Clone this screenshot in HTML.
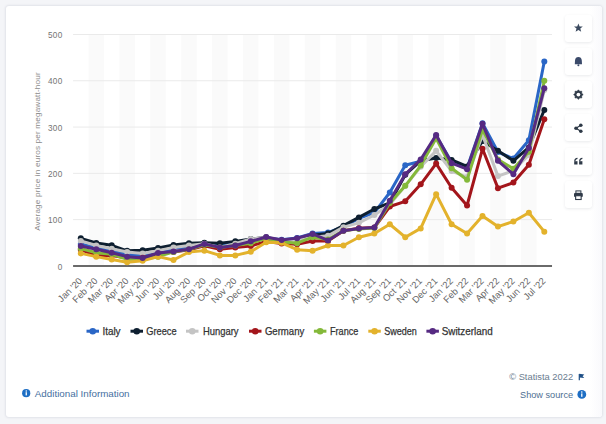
<!DOCTYPE html>
<html><head><meta charset="utf-8"><style>
html,body{margin:0;padding:0;}
body{width:606px;height:424px;background:#f4f5f8;position:relative;overflow:hidden;font-family:"Liberation Sans",sans-serif;}
.card{position:absolute;left:6px;top:6px;width:596px;height:411px;background:#fff;border-radius:3px;box-shadow:0 0 2px 1px rgba(40,50,90,0.09);}
.side{position:absolute;left:590px;top:6px;width:12px;height:411px;background:linear-gradient(to right,#fff,#f9f9fc);border-radius:0 3px 3px 0;}
.btn{position:absolute;left:565px;width:27px;height:27px;background:#fff;border-radius:3px;box-shadow:0 1px 3px rgba(40,50,70,0.10);}
svg{position:absolute;left:0;top:0;}
.yl{font-size:8.2px;fill:#737373;letter-spacing:0.3px;}
.yt{font-size:8.1px;fill:#8c8c8c;}
.xl{font-size:9.4px;fill:#666;}
.lg{font-size:10.6px;fill:#333;stroke:#333;stroke-width:0.25px;}
.t{position:absolute;white-space:nowrap;line-height:1;}
</style></head><body>
<div class="card"></div>
<div class="side"></div>
<div class="btn" style="top:15px"></div><div class="btn" style="top:48px"></div><div class="btn" style="top:81px"></div><div class="btn" style="top:114px"></div><div class="btn" style="top:147.5px"></div><div class="btn" style="top:181px"></div>
<svg width="606" height="424" viewBox="0 0 606 424">
<rect x="88.53" y="34.5" width="15.45" height="231.40" fill="#fafafa"/>
<rect x="119.42" y="34.5" width="15.45" height="231.40" fill="#fafafa"/>
<rect x="150.32" y="34.5" width="15.45" height="231.40" fill="#fafafa"/>
<rect x="181.22" y="34.5" width="15.45" height="231.40" fill="#fafafa"/>
<rect x="212.12" y="34.5" width="15.45" height="231.40" fill="#fafafa"/>
<rect x="243.02" y="34.5" width="15.45" height="231.40" fill="#fafafa"/>
<rect x="273.93" y="34.5" width="15.45" height="231.40" fill="#fafafa"/>
<rect x="304.82" y="34.5" width="15.45" height="231.40" fill="#fafafa"/>
<rect x="335.72" y="34.5" width="15.45" height="231.40" fill="#fafafa"/>
<rect x="366.62" y="34.5" width="15.45" height="231.40" fill="#fafafa"/>
<rect x="397.52" y="34.5" width="15.45" height="231.40" fill="#fafafa"/>
<rect x="428.42" y="34.5" width="15.45" height="231.40" fill="#fafafa"/>
<rect x="459.32" y="34.5" width="15.45" height="231.40" fill="#fafafa"/>
<rect x="490.22" y="34.5" width="15.45" height="231.40" fill="#fafafa"/>
<rect x="521.12" y="34.5" width="15.45" height="231.40" fill="#fafafa"/>
<line x1="73.075" x2="552.025" y1="219.62" y2="219.62" stroke="#eaeaea" stroke-width="1"/>
<line x1="73.075" x2="552.025" y1="173.34" y2="173.34" stroke="#eaeaea" stroke-width="1"/>
<line x1="73.075" x2="552.025" y1="127.06" y2="127.06" stroke="#eaeaea" stroke-width="1"/>
<line x1="73.075" x2="552.025" y1="80.78" y2="80.78" stroke="#eaeaea" stroke-width="1"/>
<line x1="73.075" x2="552.025" y1="34.50" y2="34.50" stroke="#eaeaea" stroke-width="1"/>
<line x1="73.075" x2="552.025" y1="265.90" y2="265.90" stroke="#6a6a6a" stroke-width="2"/>
<text x="62.5" y="269.50" text-anchor="end" class="yl">0</text>
<text x="62.5" y="223.22" text-anchor="end" class="yl">100</text>
<text x="62.5" y="176.94" text-anchor="end" class="yl">200</text>
<text x="62.5" y="130.66" text-anchor="end" class="yl">300</text>
<text x="62.5" y="84.38" text-anchor="end" class="yl">400</text>
<text x="62.5" y="38.10" text-anchor="end" class="yl">500</text>
<text transform="translate(39.6,151.6) rotate(-90)" text-anchor="middle" class="yt" textLength="158.5" lengthAdjust="spacing">Average price in euros per megawatt-hour</text>
<text transform="translate(82.80,281.5) rotate(-45)" text-anchor="end" class="xl">Jan '20</text>
<text transform="translate(98.25,281.5) rotate(-45)" text-anchor="end" class="xl">Feb '20</text>
<text transform="translate(113.70,281.5) rotate(-45)" text-anchor="end" class="xl">Mar '20</text>
<text transform="translate(129.15,281.5) rotate(-45)" text-anchor="end" class="xl">Apr '20</text>
<text transform="translate(144.60,281.5) rotate(-45)" text-anchor="end" class="xl">May '20</text>
<text transform="translate(160.05,281.5) rotate(-45)" text-anchor="end" class="xl">Jun '20</text>
<text transform="translate(175.50,281.5) rotate(-45)" text-anchor="end" class="xl">Jul '20</text>
<text transform="translate(190.95,281.5) rotate(-45)" text-anchor="end" class="xl">Aug '20</text>
<text transform="translate(206.40,281.5) rotate(-45)" text-anchor="end" class="xl">Sep '20</text>
<text transform="translate(221.85,281.5) rotate(-45)" text-anchor="end" class="xl">Oct '20</text>
<text transform="translate(237.30,281.5) rotate(-45)" text-anchor="end" class="xl">Nov '20</text>
<text transform="translate(252.75,281.5) rotate(-45)" text-anchor="end" class="xl">Dec '20</text>
<text transform="translate(268.20,281.5) rotate(-45)" text-anchor="end" class="xl">Jan '21</text>
<text transform="translate(283.65,281.5) rotate(-45)" text-anchor="end" class="xl">Feb '21</text>
<text transform="translate(299.10,281.5) rotate(-45)" text-anchor="end" class="xl">Mar '21</text>
<text transform="translate(314.55,281.5) rotate(-45)" text-anchor="end" class="xl">Apr '21</text>
<text transform="translate(330.00,281.5) rotate(-45)" text-anchor="end" class="xl">May '21</text>
<text transform="translate(345.45,281.5) rotate(-45)" text-anchor="end" class="xl">Jun '21</text>
<text transform="translate(360.90,281.5) rotate(-45)" text-anchor="end" class="xl">Jul '21</text>
<text transform="translate(376.35,281.5) rotate(-45)" text-anchor="end" class="xl">Aug '21</text>
<text transform="translate(391.80,281.5) rotate(-45)" text-anchor="end" class="xl">Sep '21</text>
<text transform="translate(407.25,281.5) rotate(-45)" text-anchor="end" class="xl">Oct '21</text>
<text transform="translate(422.70,281.5) rotate(-45)" text-anchor="end" class="xl">Nov '21</text>
<text transform="translate(438.15,281.5) rotate(-45)" text-anchor="end" class="xl">Dec '21</text>
<text transform="translate(453.60,281.5) rotate(-45)" text-anchor="end" class="xl">Jan '22</text>
<text transform="translate(469.05,281.5) rotate(-45)" text-anchor="end" class="xl">Feb '22</text>
<text transform="translate(484.50,281.5) rotate(-45)" text-anchor="end" class="xl">Mar '22</text>
<text transform="translate(499.95,281.5) rotate(-45)" text-anchor="end" class="xl">Apr '22</text>
<text transform="translate(515.40,281.5) rotate(-45)" text-anchor="end" class="xl">May '22</text>
<text transform="translate(530.85,281.5) rotate(-45)" text-anchor="end" class="xl">Jun '22</text>
<text transform="translate(546.30,281.5) rotate(-45)" text-anchor="end" class="xl">Jul '22</text>
<polyline points="80.80,243.93 96.25,247.71 111.70,251.08 127.15,254.42 142.60,255.82 158.05,252.95 173.50,248.31 188.95,247.25 204.40,243.32 219.85,245.73 235.30,243.35 250.75,240.91 266.20,237.80 281.65,239.72 297.10,237.94 312.55,233.50 328.00,232.58 343.45,226.65 358.90,218.38 374.35,212.68 389.80,192.50 405.25,165.18 420.70,161.33 436.15,135.74 451.60,162.00 467.05,167.93 482.50,123.33 497.95,152.07 513.40,158.53 528.85,140.34 544.30,61.50" fill="none" stroke="#2a66c6" stroke-width="3" stroke-linejoin="round" stroke-linecap="round"/>
<circle cx="80.80" cy="243.93" r="3" fill="#2a66c6"/>
<circle cx="96.25" cy="247.71" r="3" fill="#2a66c6"/>
<circle cx="111.70" cy="251.08" r="3" fill="#2a66c6"/>
<circle cx="127.15" cy="254.42" r="3" fill="#2a66c6"/>
<circle cx="142.60" cy="255.82" r="3" fill="#2a66c6"/>
<circle cx="158.05" cy="252.95" r="3" fill="#2a66c6"/>
<circle cx="173.50" cy="248.31" r="3" fill="#2a66c6"/>
<circle cx="188.95" cy="247.25" r="3" fill="#2a66c6"/>
<circle cx="204.40" cy="243.32" r="3" fill="#2a66c6"/>
<circle cx="219.85" cy="245.73" r="3" fill="#2a66c6"/>
<circle cx="235.30" cy="243.35" r="3" fill="#2a66c6"/>
<circle cx="250.75" cy="240.91" r="3" fill="#2a66c6"/>
<circle cx="266.20" cy="237.80" r="3" fill="#2a66c6"/>
<circle cx="281.65" cy="239.72" r="3" fill="#2a66c6"/>
<circle cx="297.10" cy="237.94" r="3" fill="#2a66c6"/>
<circle cx="312.55" cy="233.50" r="3" fill="#2a66c6"/>
<circle cx="328.00" cy="232.58" r="3" fill="#2a66c6"/>
<circle cx="343.45" cy="226.65" r="3" fill="#2a66c6"/>
<circle cx="358.90" cy="218.38" r="3" fill="#2a66c6"/>
<circle cx="374.35" cy="212.68" r="3" fill="#2a66c6"/>
<circle cx="389.80" cy="192.50" r="3" fill="#2a66c6"/>
<circle cx="405.25" cy="165.18" r="3" fill="#2a66c6"/>
<circle cx="420.70" cy="161.33" r="3" fill="#2a66c6"/>
<circle cx="436.15" cy="135.74" r="3" fill="#2a66c6"/>
<circle cx="451.60" cy="162.00" r="3" fill="#2a66c6"/>
<circle cx="467.05" cy="167.93" r="3" fill="#2a66c6"/>
<circle cx="482.50" cy="123.33" r="3" fill="#2a66c6"/>
<circle cx="497.95" cy="152.07" r="3" fill="#2a66c6"/>
<circle cx="513.40" cy="158.53" r="3" fill="#2a66c6"/>
<circle cx="528.85" cy="140.34" r="3" fill="#2a66c6"/>
<circle cx="544.30" cy="61.50" r="3" fill="#2a66c6"/>
<polyline points="80.80,238.36 96.25,242.99 111.70,245.31 127.15,250.86 142.60,250.16 158.05,248.04 173.50,245.07 188.95,243.22 204.40,242.76 219.85,243.22 235.30,241.37 250.75,239.06 266.20,237.21 281.65,241.79 297.10,239.06 312.55,235.36 328.00,233.50 343.45,225.64 358.90,217.40 374.35,208.98 389.80,202.96 405.25,174.73 420.70,160.84 436.15,158.07 451.60,159.92 467.05,166.40 482.50,140.94 497.95,150.66 513.40,160.84 528.85,147.47 544.30,109.94" fill="none" stroke="#0e1f30" stroke-width="3" stroke-linejoin="round" stroke-linecap="round"/>
<circle cx="80.80" cy="238.36" r="3" fill="#0e1f30"/>
<circle cx="96.25" cy="242.99" r="3" fill="#0e1f30"/>
<circle cx="111.70" cy="245.31" r="3" fill="#0e1f30"/>
<circle cx="127.15" cy="250.86" r="3" fill="#0e1f30"/>
<circle cx="142.60" cy="250.16" r="3" fill="#0e1f30"/>
<circle cx="158.05" cy="248.04" r="3" fill="#0e1f30"/>
<circle cx="173.50" cy="245.07" r="3" fill="#0e1f30"/>
<circle cx="188.95" cy="243.22" r="3" fill="#0e1f30"/>
<circle cx="204.40" cy="242.76" r="3" fill="#0e1f30"/>
<circle cx="219.85" cy="243.22" r="3" fill="#0e1f30"/>
<circle cx="235.30" cy="241.37" r="3" fill="#0e1f30"/>
<circle cx="250.75" cy="239.06" r="3" fill="#0e1f30"/>
<circle cx="266.20" cy="237.21" r="3" fill="#0e1f30"/>
<circle cx="281.65" cy="241.79" r="3" fill="#0e1f30"/>
<circle cx="297.10" cy="239.06" r="3" fill="#0e1f30"/>
<circle cx="312.55" cy="235.36" r="3" fill="#0e1f30"/>
<circle cx="328.00" cy="233.50" r="3" fill="#0e1f30"/>
<circle cx="343.45" cy="225.64" r="3" fill="#0e1f30"/>
<circle cx="358.90" cy="217.40" r="3" fill="#0e1f30"/>
<circle cx="374.35" cy="208.98" r="3" fill="#0e1f30"/>
<circle cx="389.80" cy="202.96" r="3" fill="#0e1f30"/>
<circle cx="405.25" cy="174.73" r="3" fill="#0e1f30"/>
<circle cx="420.70" cy="160.84" r="3" fill="#0e1f30"/>
<circle cx="436.15" cy="158.07" r="3" fill="#0e1f30"/>
<circle cx="451.60" cy="159.92" r="3" fill="#0e1f30"/>
<circle cx="467.05" cy="166.40" r="3" fill="#0e1f30"/>
<circle cx="482.50" cy="140.94" r="3" fill="#0e1f30"/>
<circle cx="497.95" cy="150.66" r="3" fill="#0e1f30"/>
<circle cx="513.40" cy="160.84" r="3" fill="#0e1f30"/>
<circle cx="528.85" cy="147.47" r="3" fill="#0e1f30"/>
<circle cx="544.30" cy="109.94" r="3" fill="#0e1f30"/>
<polyline points="80.80,240.91 96.25,245.54 111.70,248.78 127.15,252.02 142.60,253.40 158.05,250.63 173.50,247.39 188.95,245.54 204.40,243.69 219.85,247.39 235.30,243.69 250.75,239.06 266.20,237.21 281.65,241.14 297.10,240.45 312.55,237.21 328.00,235.82 343.45,227.16 358.90,222.86 374.35,214.99 389.80,204.53 405.25,185.88 420.70,166.81 436.15,150.85 451.60,171.03 467.05,177.04 482.50,134.93 497.95,176.12 513.40,170.56 528.85,154.83 544.30,90.04" fill="none" stroke="#c4c4c4" stroke-width="3" stroke-linejoin="round" stroke-linecap="round"/>
<circle cx="80.80" cy="240.91" r="3" fill="#c4c4c4"/>
<circle cx="96.25" cy="245.54" r="3" fill="#c4c4c4"/>
<circle cx="111.70" cy="248.78" r="3" fill="#c4c4c4"/>
<circle cx="127.15" cy="252.02" r="3" fill="#c4c4c4"/>
<circle cx="142.60" cy="253.40" r="3" fill="#c4c4c4"/>
<circle cx="158.05" cy="250.63" r="3" fill="#c4c4c4"/>
<circle cx="173.50" cy="247.39" r="3" fill="#c4c4c4"/>
<circle cx="188.95" cy="245.54" r="3" fill="#c4c4c4"/>
<circle cx="204.40" cy="243.69" r="3" fill="#c4c4c4"/>
<circle cx="219.85" cy="247.39" r="3" fill="#c4c4c4"/>
<circle cx="235.30" cy="243.69" r="3" fill="#c4c4c4"/>
<circle cx="250.75" cy="239.06" r="3" fill="#c4c4c4"/>
<circle cx="266.20" cy="237.21" r="3" fill="#c4c4c4"/>
<circle cx="281.65" cy="241.14" r="3" fill="#c4c4c4"/>
<circle cx="297.10" cy="240.45" r="3" fill="#c4c4c4"/>
<circle cx="312.55" cy="237.21" r="3" fill="#c4c4c4"/>
<circle cx="328.00" cy="235.82" r="3" fill="#c4c4c4"/>
<circle cx="343.45" cy="227.16" r="3" fill="#c4c4c4"/>
<circle cx="358.90" cy="222.86" r="3" fill="#c4c4c4"/>
<circle cx="374.35" cy="214.99" r="3" fill="#c4c4c4"/>
<circle cx="389.80" cy="204.53" r="3" fill="#c4c4c4"/>
<circle cx="405.25" cy="185.88" r="3" fill="#c4c4c4"/>
<circle cx="420.70" cy="166.81" r="3" fill="#c4c4c4"/>
<circle cx="436.15" cy="150.85" r="3" fill="#c4c4c4"/>
<circle cx="451.60" cy="171.03" r="3" fill="#c4c4c4"/>
<circle cx="467.05" cy="177.04" r="3" fill="#c4c4c4"/>
<circle cx="482.50" cy="134.93" r="3" fill="#c4c4c4"/>
<circle cx="497.95" cy="176.12" r="3" fill="#c4c4c4"/>
<circle cx="513.40" cy="170.56" r="3" fill="#c4c4c4"/>
<circle cx="528.85" cy="154.83" r="3" fill="#c4c4c4"/>
<circle cx="544.30" cy="90.04" r="3" fill="#c4c4c4"/>
<polyline points="80.80,249.69 96.25,255.76 111.70,255.49 127.15,257.99 142.60,257.77 158.05,253.79 173.50,252.01 188.95,249.77 204.40,245.68 219.85,249.24 235.30,247.39 250.75,246.00 266.20,241.45 281.65,243.45 297.10,244.16 312.55,241.07 328.00,241.09 343.45,230.73 358.90,228.17 374.35,227.61 389.80,206.49 405.25,201.33 420.70,184.35 436.15,163.58 451.60,187.69 467.05,205.50 482.50,148.81 497.95,188.15 513.40,182.60 528.85,164.73 544.30,119.19" fill="none" stroke="#a3151b" stroke-width="3" stroke-linejoin="round" stroke-linecap="round"/>
<circle cx="80.80" cy="249.69" r="3" fill="#a3151b"/>
<circle cx="96.25" cy="255.76" r="3" fill="#a3151b"/>
<circle cx="111.70" cy="255.49" r="3" fill="#a3151b"/>
<circle cx="127.15" cy="257.99" r="3" fill="#a3151b"/>
<circle cx="142.60" cy="257.77" r="3" fill="#a3151b"/>
<circle cx="158.05" cy="253.79" r="3" fill="#a3151b"/>
<circle cx="173.50" cy="252.01" r="3" fill="#a3151b"/>
<circle cx="188.95" cy="249.77" r="3" fill="#a3151b"/>
<circle cx="204.40" cy="245.68" r="3" fill="#a3151b"/>
<circle cx="219.85" cy="249.24" r="3" fill="#a3151b"/>
<circle cx="235.30" cy="247.39" r="3" fill="#a3151b"/>
<circle cx="250.75" cy="246.00" r="3" fill="#a3151b"/>
<circle cx="266.20" cy="241.45" r="3" fill="#a3151b"/>
<circle cx="281.65" cy="243.45" r="3" fill="#a3151b"/>
<circle cx="297.10" cy="244.16" r="3" fill="#a3151b"/>
<circle cx="312.55" cy="241.07" r="3" fill="#a3151b"/>
<circle cx="328.00" cy="241.09" r="3" fill="#a3151b"/>
<circle cx="343.45" cy="230.73" r="3" fill="#a3151b"/>
<circle cx="358.90" cy="228.17" r="3" fill="#a3151b"/>
<circle cx="374.35" cy="227.61" r="3" fill="#a3151b"/>
<circle cx="389.80" cy="206.49" r="3" fill="#a3151b"/>
<circle cx="405.25" cy="201.33" r="3" fill="#a3151b"/>
<circle cx="420.70" cy="184.35" r="3" fill="#a3151b"/>
<circle cx="436.15" cy="163.58" r="3" fill="#a3151b"/>
<circle cx="451.60" cy="187.69" r="3" fill="#a3151b"/>
<circle cx="467.05" cy="205.50" r="3" fill="#a3151b"/>
<circle cx="482.50" cy="148.81" r="3" fill="#a3151b"/>
<circle cx="497.95" cy="188.15" r="3" fill="#a3151b"/>
<circle cx="513.40" cy="182.60" r="3" fill="#a3151b"/>
<circle cx="528.85" cy="164.73" r="3" fill="#a3151b"/>
<circle cx="544.30" cy="119.19" r="3" fill="#a3151b"/>
<polyline points="80.80,248.45 96.25,252.71 111.70,254.28 127.15,259.28 142.60,259.47 158.05,256.69 173.50,251.88 188.95,249.42 204.40,244.75 219.85,247.39 235.30,245.54 250.75,243.22 266.20,238.27 281.65,241.83 297.10,243.22 312.55,237.21 328.00,239.47 343.45,230.73 358.90,228.88 374.35,227.95 389.80,203.01 405.25,185.84 420.70,165.56 436.15,138.35 451.60,168.25 467.05,179.82 482.50,129.61 497.95,159.46 513.40,168.67 528.85,151.68 544.30,80.78" fill="none" stroke="#84b93a" stroke-width="3" stroke-linejoin="round" stroke-linecap="round"/>
<circle cx="80.80" cy="248.45" r="3" fill="#84b93a"/>
<circle cx="96.25" cy="252.71" r="3" fill="#84b93a"/>
<circle cx="111.70" cy="254.28" r="3" fill="#84b93a"/>
<circle cx="127.15" cy="259.28" r="3" fill="#84b93a"/>
<circle cx="142.60" cy="259.47" r="3" fill="#84b93a"/>
<circle cx="158.05" cy="256.69" r="3" fill="#84b93a"/>
<circle cx="173.50" cy="251.88" r="3" fill="#84b93a"/>
<circle cx="188.95" cy="249.42" r="3" fill="#84b93a"/>
<circle cx="204.40" cy="244.75" r="3" fill="#84b93a"/>
<circle cx="219.85" cy="247.39" r="3" fill="#84b93a"/>
<circle cx="235.30" cy="245.54" r="3" fill="#84b93a"/>
<circle cx="250.75" cy="243.22" r="3" fill="#84b93a"/>
<circle cx="266.20" cy="238.27" r="3" fill="#84b93a"/>
<circle cx="281.65" cy="241.83" r="3" fill="#84b93a"/>
<circle cx="297.10" cy="243.22" r="3" fill="#84b93a"/>
<circle cx="312.55" cy="237.21" r="3" fill="#84b93a"/>
<circle cx="328.00" cy="239.47" r="3" fill="#84b93a"/>
<circle cx="343.45" cy="230.73" r="3" fill="#84b93a"/>
<circle cx="358.90" cy="228.88" r="3" fill="#84b93a"/>
<circle cx="374.35" cy="227.95" r="3" fill="#84b93a"/>
<circle cx="389.80" cy="203.01" r="3" fill="#84b93a"/>
<circle cx="405.25" cy="185.84" r="3" fill="#84b93a"/>
<circle cx="420.70" cy="165.56" r="3" fill="#84b93a"/>
<circle cx="436.15" cy="138.35" r="3" fill="#84b93a"/>
<circle cx="451.60" cy="168.25" r="3" fill="#84b93a"/>
<circle cx="467.05" cy="179.82" r="3" fill="#84b93a"/>
<circle cx="482.50" cy="129.61" r="3" fill="#84b93a"/>
<circle cx="497.95" cy="159.46" r="3" fill="#84b93a"/>
<circle cx="513.40" cy="168.67" r="3" fill="#84b93a"/>
<circle cx="528.85" cy="151.68" r="3" fill="#84b93a"/>
<circle cx="544.30" cy="80.78" r="3" fill="#84b93a"/>
<polyline points="80.80,253.40 96.25,256.64 111.70,259.42 127.15,262.20 142.60,260.81 158.05,256.64 173.50,260.02 188.95,252.02 204.40,250.63 219.85,255.39 235.30,255.39 250.75,251.69 266.20,242.30 281.65,242.76 297.10,249.70 312.55,250.81 328.00,245.54 343.45,245.54 358.90,237.21 374.35,233.50 389.80,224.25 405.25,237.21 420.70,228.41 436.15,194.17 451.60,224.25 467.05,233.50 482.50,215.92 497.95,226.56 513.40,221.47 528.85,212.68 544.30,231.65" fill="none" stroke="#e3b22c" stroke-width="3" stroke-linejoin="round" stroke-linecap="round"/>
<circle cx="80.80" cy="253.40" r="3" fill="#e3b22c"/>
<circle cx="96.25" cy="256.64" r="3" fill="#e3b22c"/>
<circle cx="111.70" cy="259.42" r="3" fill="#e3b22c"/>
<circle cx="127.15" cy="262.20" r="3" fill="#e3b22c"/>
<circle cx="142.60" cy="260.81" r="3" fill="#e3b22c"/>
<circle cx="158.05" cy="256.64" r="3" fill="#e3b22c"/>
<circle cx="173.50" cy="260.02" r="3" fill="#e3b22c"/>
<circle cx="188.95" cy="252.02" r="3" fill="#e3b22c"/>
<circle cx="204.40" cy="250.63" r="3" fill="#e3b22c"/>
<circle cx="219.85" cy="255.39" r="3" fill="#e3b22c"/>
<circle cx="235.30" cy="255.39" r="3" fill="#e3b22c"/>
<circle cx="250.75" cy="251.69" r="3" fill="#e3b22c"/>
<circle cx="266.20" cy="242.30" r="3" fill="#e3b22c"/>
<circle cx="281.65" cy="242.76" r="3" fill="#e3b22c"/>
<circle cx="297.10" cy="249.70" r="3" fill="#e3b22c"/>
<circle cx="312.55" cy="250.81" r="3" fill="#e3b22c"/>
<circle cx="328.00" cy="245.54" r="3" fill="#e3b22c"/>
<circle cx="343.45" cy="245.54" r="3" fill="#e3b22c"/>
<circle cx="358.90" cy="237.21" r="3" fill="#e3b22c"/>
<circle cx="374.35" cy="233.50" r="3" fill="#e3b22c"/>
<circle cx="389.80" cy="224.25" r="3" fill="#e3b22c"/>
<circle cx="405.25" cy="237.21" r="3" fill="#e3b22c"/>
<circle cx="420.70" cy="228.41" r="3" fill="#e3b22c"/>
<circle cx="436.15" cy="194.17" r="3" fill="#e3b22c"/>
<circle cx="451.60" cy="224.25" r="3" fill="#e3b22c"/>
<circle cx="467.05" cy="233.50" r="3" fill="#e3b22c"/>
<circle cx="482.50" cy="215.92" r="3" fill="#e3b22c"/>
<circle cx="497.95" cy="226.56" r="3" fill="#e3b22c"/>
<circle cx="513.40" cy="221.47" r="3" fill="#e3b22c"/>
<circle cx="528.85" cy="212.68" r="3" fill="#e3b22c"/>
<circle cx="544.30" cy="231.65" r="3" fill="#e3b22c"/>
<polyline points="80.80,246.00 96.25,249.24 111.70,252.71 127.15,256.64 142.60,258.03 158.05,253.03 173.50,251.55 188.95,249.24 204.40,243.92 219.85,247.39 235.30,245.54 250.75,241.37 266.20,236.97 281.65,239.98 297.10,238.13 312.55,233.97 328.00,240.45 343.45,230.73 358.90,228.41 374.35,227.49 389.80,200.65 405.25,174.27 420.70,159.46 436.15,134.93 451.60,163.16 467.05,169.17 482.50,123.82 497.95,160.84 513.40,174.27 528.85,147.89 544.30,88.18" fill="none" stroke="#562a82" stroke-width="3" stroke-linejoin="round" stroke-linecap="round"/>
<circle cx="80.80" cy="246.00" r="3" fill="#562a82"/>
<circle cx="96.25" cy="249.24" r="3" fill="#562a82"/>
<circle cx="111.70" cy="252.71" r="3" fill="#562a82"/>
<circle cx="127.15" cy="256.64" r="3" fill="#562a82"/>
<circle cx="142.60" cy="258.03" r="3" fill="#562a82"/>
<circle cx="158.05" cy="253.03" r="3" fill="#562a82"/>
<circle cx="173.50" cy="251.55" r="3" fill="#562a82"/>
<circle cx="188.95" cy="249.24" r="3" fill="#562a82"/>
<circle cx="204.40" cy="243.92" r="3" fill="#562a82"/>
<circle cx="219.85" cy="247.39" r="3" fill="#562a82"/>
<circle cx="235.30" cy="245.54" r="3" fill="#562a82"/>
<circle cx="250.75" cy="241.37" r="3" fill="#562a82"/>
<circle cx="266.20" cy="236.97" r="3" fill="#562a82"/>
<circle cx="281.65" cy="239.98" r="3" fill="#562a82"/>
<circle cx="297.10" cy="238.13" r="3" fill="#562a82"/>
<circle cx="312.55" cy="233.97" r="3" fill="#562a82"/>
<circle cx="328.00" cy="240.45" r="3" fill="#562a82"/>
<circle cx="343.45" cy="230.73" r="3" fill="#562a82"/>
<circle cx="358.90" cy="228.41" r="3" fill="#562a82"/>
<circle cx="374.35" cy="227.49" r="3" fill="#562a82"/>
<circle cx="389.80" cy="200.65" r="3" fill="#562a82"/>
<circle cx="405.25" cy="174.27" r="3" fill="#562a82"/>
<circle cx="420.70" cy="159.46" r="3" fill="#562a82"/>
<circle cx="436.15" cy="134.93" r="3" fill="#562a82"/>
<circle cx="451.60" cy="163.16" r="3" fill="#562a82"/>
<circle cx="467.05" cy="169.17" r="3" fill="#562a82"/>
<circle cx="482.50" cy="123.82" r="3" fill="#562a82"/>
<circle cx="497.95" cy="160.84" r="3" fill="#562a82"/>
<circle cx="513.40" cy="174.27" r="3" fill="#562a82"/>
<circle cx="528.85" cy="147.89" r="3" fill="#562a82"/>
<circle cx="544.30" cy="88.18" r="3" fill="#562a82"/>
<line x1="86.5" x2="99.0" y1="331.2" y2="331.2" stroke="#2a66c6" stroke-width="3"/>
<circle cx="92.75" cy="331.2" r="3.3" fill="#2a66c6"/>
<text x="102.4" y="334.8" class="lg" textLength="18.2" lengthAdjust="spacingAndGlyphs">Italy</text>
<line x1="130.5" x2="143.0" y1="331.2" y2="331.2" stroke="#0e1f30" stroke-width="3"/>
<circle cx="136.75" cy="331.2" r="3.3" fill="#0e1f30"/>
<text x="146.3" y="334.8" class="lg" textLength="30.3" lengthAdjust="spacingAndGlyphs">Greece</text>
<line x1="186.0" x2="198.5" y1="331.2" y2="331.2" stroke="#c4c4c4" stroke-width="3"/>
<circle cx="192.25" cy="331.2" r="3.3" fill="#c4c4c4"/>
<text x="202.9" y="334.8" class="lg" textLength="35.6" lengthAdjust="spacingAndGlyphs">Hungary</text>
<line x1="249.0" x2="261.5" y1="331.2" y2="331.2" stroke="#a3151b" stroke-width="3"/>
<circle cx="255.25" cy="331.2" r="3.3" fill="#a3151b"/>
<text x="264.9" y="334.8" class="lg" textLength="39.4" lengthAdjust="spacingAndGlyphs">Germany</text>
<line x1="313.9" x2="326.4" y1="331.2" y2="331.2" stroke="#84b93a" stroke-width="3"/>
<circle cx="320.15" cy="331.2" r="3.3" fill="#84b93a"/>
<text x="330" y="334.8" class="lg" textLength="28.4" lengthAdjust="spacingAndGlyphs">France</text>
<line x1="368.3" x2="380.8" y1="331.2" y2="331.2" stroke="#e3b22c" stroke-width="3"/>
<circle cx="374.55" cy="331.2" r="3.3" fill="#e3b22c"/>
<text x="384.2" y="334.8" class="lg" textLength="32.6" lengthAdjust="spacingAndGlyphs">Sweden</text>
<line x1="426.4" x2="438.9" y1="331.2" y2="331.2" stroke="#562a82" stroke-width="3"/>
<circle cx="432.65" cy="331.2" r="3.3" fill="#562a82"/>
<text x="441.7" y="334.8" class="lg" textLength="51.1" lengthAdjust="spacingAndGlyphs">Switzerland</text>
<g transform="translate(578.4,28)"><path d="M0,-4.6 L1.2,-1.5 L4.4,-1.4 L1.9,0.6 L2.8,3.8 L0,2 L-2.8,3.8 L-1.9,0.6 L-4.4,-1.4 L-1.2,-1.5 Z" fill="#3b4a5f"/></g><g transform="translate(578.4,61.5)"><path d="M-3.6,2.8 L-3.4,-1 C-3.3,-3.6 -1.8,-4.6 0,-4.6 C1.8,-4.6 3.3,-3.6 3.4,-1 L3.6,2.8 Z" fill="#3b4a6a"/><circle cx="0" cy="3.7" r="1" fill="#3b4a6a"/></g><g transform="translate(578.4,94.6)"><polygon points="0.00,-4.80 1.34,-3.23 3.39,-3.39 3.23,-1.34 4.80,0.00 3.23,1.34 3.39,3.39 1.34,3.23 0.00,4.80 -1.34,3.23 -3.39,3.39 -3.23,1.34 -4.80,0.00 -3.23,-1.34 -3.39,-3.39 -1.34,-3.23" fill="#2f3a48" stroke="#2f3a48" stroke-width="0.6" stroke-linejoin="round"/><circle r="1.9" fill="#fff"/></g><g transform="translate(578.4,128.2)"><g fill="#2f3a48"><circle cx="2.4" cy="-3" r="1.8"/><circle cx="-2.4" cy="0" r="1.8"/><circle cx="2.4" cy="3" r="1.8"/></g><path d="M2.4,-3 L-2.4,0 L2.4,3" stroke="#2f3a48" stroke-width="1.2" fill="none"/></g><g transform="translate(578.4,161.6)"><g fill="#2f3a48"><rect x="-4.2" y="-0.4" width="3.3" height="3.3"/><path d="M-4.2,-0.4 C-4.2,-2.6 -3.0,-3.6 -0.9000000000000004,-3.9 L-0.9000000000000004,-2.7 C-2.1,-2.5 -2.9000000000000004,-1.8 -3.0,-0.4Z"/><rect x="0.7" y="-0.4" width="3.3" height="3.3"/><path d="M0.7,-0.4 C0.7,-2.6 1.9,-3.6 4.0,-3.9 L4.0,-2.7 C2.8,-2.5 2.0,-1.8 1.9,-0.4Z"/></g></g><g transform="translate(578.4,195.2)"><rect x="-2.5" y="-4.3" width="5" height="2.4" fill="#fff" stroke="#2f3a48" stroke-width="1"/><rect x="-4.4" y="-2.3" width="8.8" height="4" rx="1" fill="#2f3a48"/><rect x="-2.75" y="0.5" width="5.5" height="3.8" fill="#fff" stroke="#2f3a48" stroke-width="1.1"/></g>
<circle cx="26.2" cy="393.2" r="4.1" fill="#1d6ec4"/>
<rect x="25.6" y="392.2" width="1.3" height="3.2" fill="#fff"/><circle cx="26.25" cy="390.9" r="0.75" fill="#fff"/>
<text x="34.8" y="396.6" font-size="9.8" fill="#4670a0">Additional Information</text>
<text x="509.2" y="379.9" font-size="9.6" fill="#6b7d90" textLength="63.9" lengthAdjust="spacingAndGlyphs">© Statista 2022</text>
<path d="M579.3,374 L579.3,380.2" stroke="#1e4f86" stroke-width="1.2"/><path d="M579.3,373.8 L584.3,374.6 L582.6,376.3 L584.3,378 L579.3,377.6 Z" fill="#1e4f86"/>
<text x="520" y="397.7" font-size="9.8" fill="#4f6f92" textLength="53.1" lengthAdjust="spacingAndGlyphs">Show source</text>
<circle cx="581.8" cy="394.4" r="4.4" fill="#1d6ec4"/>
<rect x="581.15" y="393.4" width="1.3" height="3.4" fill="#fff"/><circle cx="581.8" cy="392" r="0.8" fill="#fff"/>
</svg>
</body></html>
